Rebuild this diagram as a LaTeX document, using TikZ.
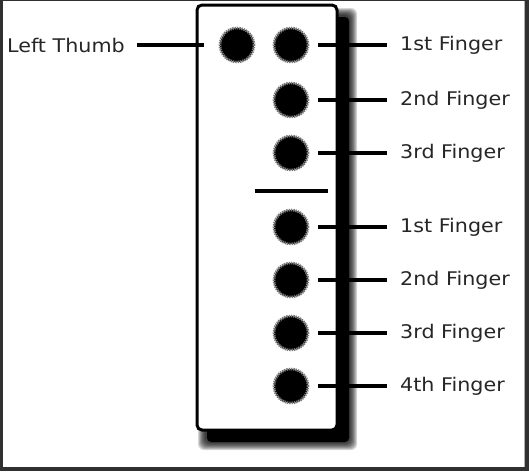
\documentclass[tikz,border=0pt]{standalone}
\usepackage{fontspec}
\newfontfamily\labfont[FakeStretch=1.1]{DejaVu Sans}
\definecolor{framedark}{HTML}{303030}
\definecolor{rimgray}{HTML}{7A7A7A}
\begin{document}
\begin{tikzpicture}[x=1pt,y=-1pt,
  hole/.style={circle,fill=black,draw=rimgray,line width=2.6pt,dash pattern=on 1.4pt off 0.9pt,minimum size=34pt,inner sep=0pt},
  lab/.style={font=\labfont\fontsize{18.8}{22}\selectfont,inner sep=0pt,text=black!85},
  conn/.style={line width=4pt,black}]
% frame
\fill[framedark] (0,0) rectangle (529,471);
\fill[gray!60] (2.5,0.8) rectangle (525,467.2);
\fill[white] (3,1) rectangle (524,466.5);
\useasboundingbox (0,0) rectangle (529,471);
% shadow
\foreach \k in {8,7,6,5,4,3,2,1}
  \fill[black,opacity=0.16,rounded corners=6pt] (206-\k,16-\k) rectangle (349+\k,442+\k);
\fill[black,rounded corners=4pt] (207,17) rectangle (349,442);
% box
\draw[line width=3pt,fill=white,rounded corners=5pt] (197,5) rectangle (337,430);
% holes
\node[hole] (th) at (237,45) {};
\node[hole] (f1) at (291,45) {};
\node[hole] (f2) at (291,100) {};
\node[hole] (f3) at (291,153) {};
\node[hole] (g1) at (291,227) {};
\node[hole] (g2) at (291,280) {};
\node[hole] (g3) at (291,333) {};
\node[hole] (g4) at (291,386) {};
% separator
\coordinate (sa) at (255,190.5);
\coordinate (sb) at (328,190.5);
\draw[conn] (sa) -- (sb);
% labels
\node[lab,anchor=east] (lth) at (125,45) {Left Thumb};
\node[lab,anchor=west] (lf1) at (400,45) {1st Finger};
\node[lab,anchor=west] (lf2) at (400,100) {2nd Finger};
\node[lab,anchor=west] (lf3) at (400,153) {3rd Finger};
\node[lab,anchor=west] (lg1) at (400,227) {1st Finger};
\node[lab,anchor=west] (lg2) at (400,280) {2nd Finger};
\node[lab,anchor=west] (lg3) at (400,333) {3rd Finger};
\node[lab,anchor=west] (lg4) at (400,386) {4th Finger};
% connectors
\draw[conn] ([xshift=12pt]lth.east) -- ([xshift=-15pt]th.west);
\foreach \a/\b in {f1/lf1,f2/lf2,f3/lf3,g1/lg1,g2/lg2,g3/lg3,g4/lg4}
  \draw[conn] ([xshift=9pt]\a.east) -- ([xshift=-13pt]\b.west);
\end{tikzpicture}
\end{document}
